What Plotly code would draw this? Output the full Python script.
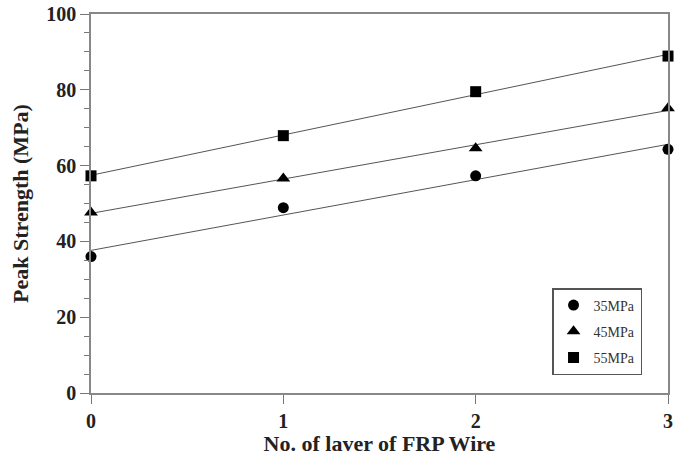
import numpy as np
import plotly.graph_objects as go

layers = [0, 1, 2, 3]
s35 = [36.0, 48.9, 57.3, 64.3]
s45 = [47.6, 56.6, 64.6, 75.1]
s55 = [57.3, 67.9, 79.5, 88.9]
names = ["35MPa", "45MPa", "55MPa"]
symbols = ["circle", "triangle-up", "square"]
sizes = [11, 12, 11]

fig = go.Figure()
for vals in [s35, s45, s55]:
    m, c = np.polyfit(layers, vals, 1)
    fit = [m * x + c for x in layers]
    fig.add_trace(go.Scatter(x=layers, y=fit, mode="lines",
                             line=dict(color="#555555", width=1),
                             showlegend=False, hoverinfo="skip"))
for vals, name, sym, sz in zip([s35, s45, s55], names, symbols, sizes):
    fig.add_trace(go.Scatter(x=layers, y=vals, mode="markers", name=name,
                             legendgroup=name,
                             marker=dict(symbol=sym, size=sz, color="black"),
                             cliponaxis=False))

serif = "Liberation Serif"
axis_font = dict(family=serif, size=20, color="#222222")
title_font = dict(family=serif, size=22, color="#222222")
fig.update_layout(
    width=682, height=456,
    margin=dict(l=91, r=14, t=14, b=63),
    plot_bgcolor="white", paper_bgcolor="white",
    font=dict(family=serif, color="#222222"),
    legend=dict(x=0.955, y=0.277, xanchor="right", yanchor="top",
                bordercolor="#555555", borderwidth=1.5,
                font=dict(family=serif, size=14, color="#333333"),
                bgcolor="white", tracegroupgap=5, itemwidth=30),
    xaxis=dict(range=[0, 3], tickvals=layers,
               ticktext=["<b>0</b>", "<b>1</b>", "<b>2</b>", "<b>3</b>"],
               ticks="outside", ticklen=9, tickcolor="#777777",
               showline=True, linecolor="#888888", linewidth=1.5, mirror=True,
               showgrid=False, zeroline=False, tickfont=axis_font, automargin=False,
               title=dict(text="<b>No. of laver of FRP Wire</b>", font=title_font, standoff=2)),
    yaxis=dict(range=[0, 100], tickvals=[0, 20, 40, 60, 80, 100],
               ticktext=["<b>0</b>", "<b>20</b>", "<b>40</b>", "<b>60</b>", "<b>80</b>", "<b>100</b>"],
               ticks="outside", ticklen=9, tickcolor="#777777",
               minor=dict(dtick=5, ticks="outside", ticklen=5, tickcolor="#777777"),
               showline=True, linecolor="#888888", linewidth=1.5, mirror=True,
               showgrid=False, zeroline=False, tickfont=axis_font, automargin=False,
               title=dict(text="<b>Peak Strength (MPa)</b>", font=title_font, standoff=12)),
)
fig.write_html("out.html")
